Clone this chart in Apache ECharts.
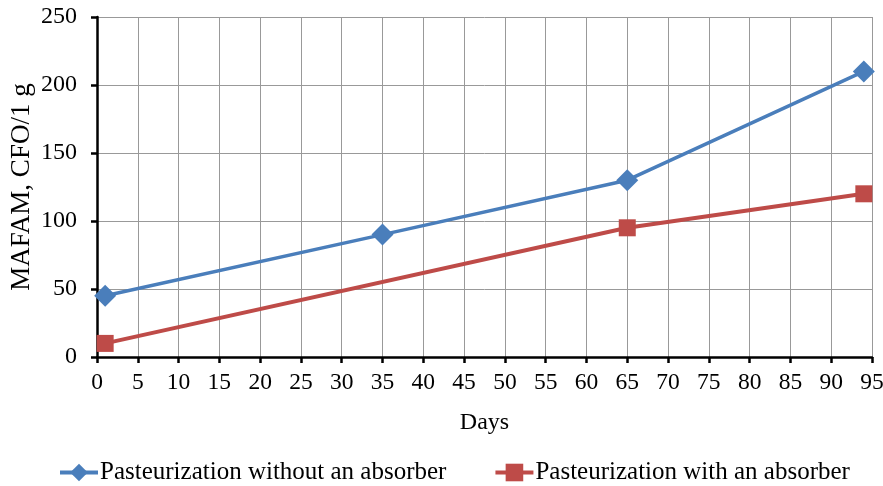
<!DOCTYPE html>
<html><head><meta charset="utf-8">
<script src="https://cdn.jsdelivr.net/npm/echarts@6/dist/echarts.min.js"></script>
<style>html,body{margin:0;padding:0;background:#fff}#c{width:883px;height:486px}</style>
</head><body><div id="c"></div>
<script>
var seriesNames = ['Pasteurization without an absorber', 'Pasteurization with an absorber'];
var withoutAbsorber = [[1, 45], [35, 90], [65, 130], [94, 210]];
var withAbsorber = [[1, 10], [65, 95], [94, 120]];
var xTitle = 'Days';
var yTitle = 'MAFAM, CFO/1 g';

var font = '"Liberation Serif", "Times New Roman", serif';
var chart = echarts.init(document.getElementById('c'));
chart.setOption({
  animation: false,
  textStyle: {fontFamily: font},
  grid: {left: 97, right: 11, top: 17, bottom: 129, containLabel: false, outerBoundsMode: 'none'},
  legend: {
    top: 455, left: 53, itemGap: 47, itemWidth: 38, itemHeight: 22,
    lineStyle: {width: 4},
    textStyle: {fontFamily: font, fontSize: 25, color: '#000', padding: [0, 0, 0, -3]},
    data: seriesNames
  },
  xAxis: {
    type: 'value', min: 0, max: 95, interval: 5,
    name: xTitle, nameLocation: 'middle', nameGap: 54, nameMoveOverlap: false,
    nameTextStyle: {fontFamily: font, fontSize: 24, color: '#000'},
    axisLine: {show: true, onZero: false, lineStyle: {color: '#000', width: 2.5}},
    axisTick: {show: true, length: 6, lineStyle: {color: '#000', width: 2.5}},
    axisLabel: {fontFamily: font, fontSize: 23.5, color: '#000', margin: 14},
    splitLine: {show: true, lineStyle: {color: '#999', width: 1}}
  },
  yAxis: {
    type: 'value', min: 0, max: 250, interval: 50,
    name: yTitle, nameLocation: 'middle', nameGap: 62, nameMoveOverlap: false,
    nameTextStyle: {fontFamily: font, fontSize: 27, color: '#000'},
    axisLine: {show: true, lineStyle: {color: '#000', width: 2.5}},
    axisTick: {show: true, length: 6, lineStyle: {color: '#000', width: 2.5}},
    axisLabel: {fontFamily: font, fontSize: 24, color: '#000', margin: 20},
    splitLine: {show: true, lineStyle: {color: '#999', width: 1}}
  },
  series: [
    {
      name: seriesNames[0], type: 'line', data: withoutAbsorber,
      symbol: 'diamond', symbolSize: [22, 22],
      lineStyle: {color: '#4a7ebb', width: 3.5},
      itemStyle: {color: '#4a7ebb'}
    },
    {
      name: seriesNames[1], type: 'line', data: withAbsorber,
      symbol: 'rect', symbolSize: 17,
      lineStyle: {color: '#be4b48', width: 4},
      itemStyle: {color: '#be4b48'}
    }
  ]
});
</script></body></html>
